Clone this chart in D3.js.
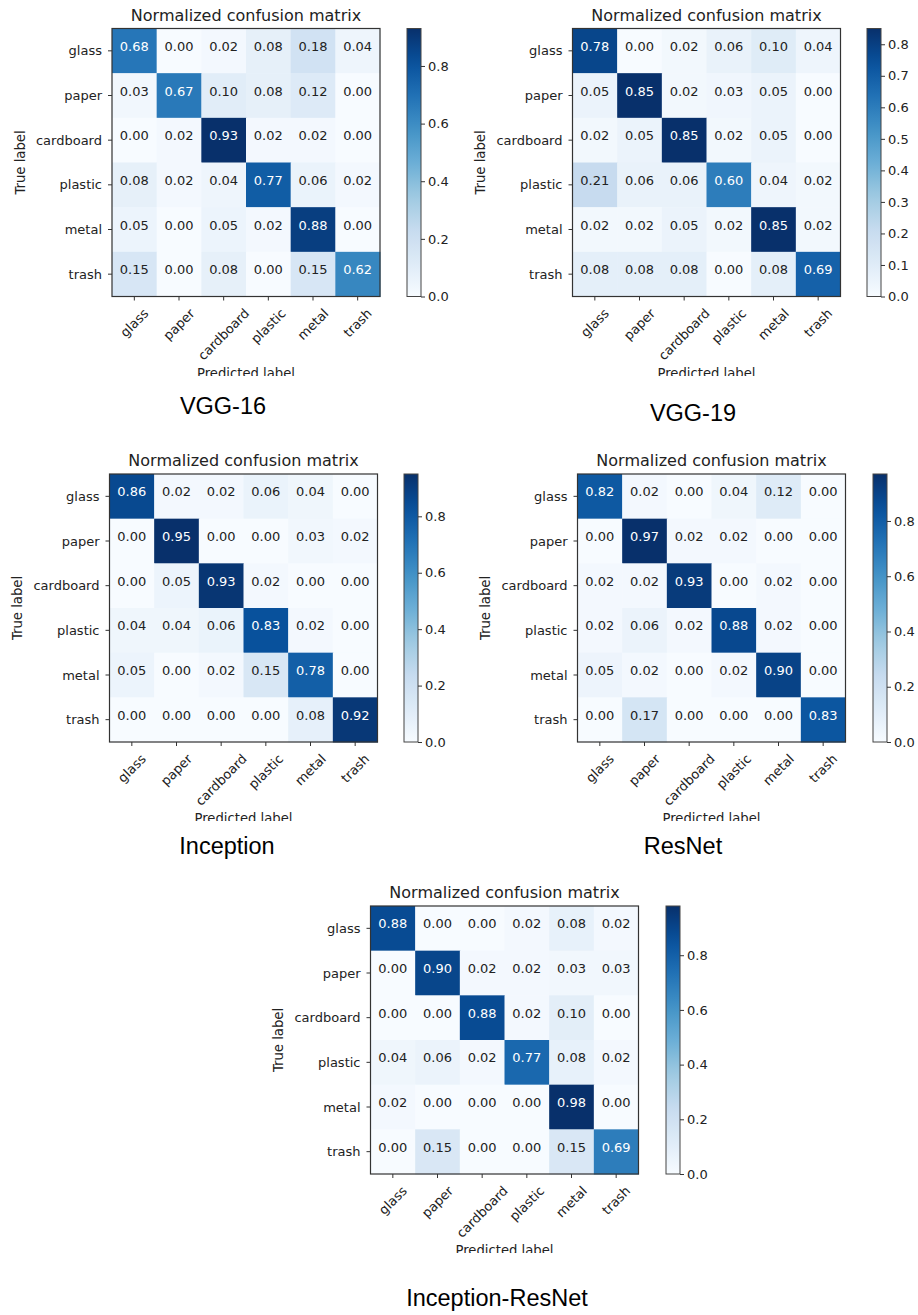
<!DOCTYPE html>
<html lang="en">
<head>
<meta charset="UTF-8">
<title>Normalized confusion matrices</title>
<script src="https://d3js.org/d3.v7.min.js"></script>
<style>
  body { margin: 0; background: #fff; }
  svg text { fill: #222; }
  .tick-label, .cell-text, .cb-label { font-family: "DejaVu Sans", sans-serif; font-size: 13px; }
  .title { font-family: "DejaVu Sans", sans-serif; font-size: 16px; }
  .axis-title { font-family: "DejaVu Sans", sans-serif; font-size: 13.2px; }
  .caption { font-family: "Liberation Sans", Arial, sans-serif; font-size: 23.5px; fill: #000; }
</style>
</head>
<body>
<div id="chart"></div>
<script>
// categories (same order on both axes)
const classes = ["glass", "paper", "cardboard", "plastic", "metal", "trash"];

const modelNames = ["VGG-16", "VGG-19", "Inception", "ResNet", "Inception-ResNet"];

const vgg16 = [
  [0.68, 0.00, 0.02, 0.08, 0.18, 0.04],
  [0.03, 0.67, 0.10, 0.08, 0.12, 0.00],
  [0.00, 0.02, 0.93, 0.02, 0.02, 0.00],
  [0.08, 0.02, 0.04, 0.77, 0.06, 0.02],
  [0.05, 0.00, 0.05, 0.02, 0.88, 0.00],
  [0.15, 0.00, 0.08, 0.00, 0.15, 0.62]
];
const vgg19 = [
  [0.78, 0.00, 0.02, 0.06, 0.10, 0.04],
  [0.05, 0.85, 0.02, 0.03, 0.05, 0.00],
  [0.02, 0.05, 0.85, 0.02, 0.05, 0.00],
  [0.21, 0.06, 0.06, 0.60, 0.04, 0.02],
  [0.02, 0.02, 0.05, 0.02, 0.85, 0.02],
  [0.08, 0.08, 0.08, 0.00, 0.08, 0.69]
];
const inception = [
  [0.86, 0.02, 0.02, 0.06, 0.04, 0.00],
  [0.00, 0.95, 0.00, 0.00, 0.03, 0.02],
  [0.00, 0.05, 0.93, 0.02, 0.00, 0.00],
  [0.04, 0.04, 0.06, 0.83, 0.02, 0.00],
  [0.05, 0.00, 0.02, 0.15, 0.78, 0.00],
  [0.00, 0.00, 0.00, 0.00, 0.08, 0.92]
];
const resnet = [
  [0.82, 0.02, 0.00, 0.04, 0.12, 0.00],
  [0.00, 0.97, 0.02, 0.02, 0.00, 0.00],
  [0.02, 0.02, 0.93, 0.00, 0.02, 0.00],
  [0.02, 0.06, 0.02, 0.88, 0.02, 0.00],
  [0.05, 0.02, 0.00, 0.02, 0.90, 0.00],
  [0.00, 0.17, 0.00, 0.00, 0.00, 0.83]
];
const inceptionResnet = [
  [0.88, 0.00, 0.00, 0.02, 0.08, 0.02],
  [0.00, 0.90, 0.02, 0.02, 0.03, 0.03],
  [0.00, 0.00, 0.88, 0.02, 0.10, 0.00],
  [0.04, 0.06, 0.02, 0.77, 0.08, 0.02],
  [0.02, 0.00, 0.00, 0.00, 0.98, 0.00],
  [0.00, 0.15, 0.00, 0.00, 0.15, 0.69]
];
const matrices = [vgg16, vgg19, inception, resnet, inceptionResnet];

// colorbar tick values per panel
const cbTicks = [
  [0.0, 0.2, 0.4, 0.6, 0.8],
  [0.0, 0.1, 0.2, 0.3, 0.4, 0.5, 0.6, 0.7, 0.8],
  [0.0, 0.2, 0.4, 0.6, 0.8],
  [0.0, 0.2, 0.4, 0.6, 0.8],
  [0.0, 0.2, 0.4, 0.6, 0.8]
];

// matplotlib "Blues"
const bluesStops = ["#f7fbff", "#deebf7", "#c6dbef", "#9ecae1", "#6baed6", "#4292c6", "#2171b5", "#08519c", "#08306b"];

// panel placement: matrix left/top, size, colorbar x, caption, clip bottom
const layout = [
  { mx: 112,   my: 28.5, size: 268, cbx: 407, capx: 223, capy: 414, clip: 376 },
  { mx: 572.5, my: 28.5, size: 268, cbx: 867, capx: 693, capy: 421, clip: 376 },
  { mx: 109.5, my: 474,  size: 268, cbx: 404, capx: 227, capy: 854, clip: 821 },
  { mx: 577.5, my: 474,  size: 268, cbx: 873, capx: 683, capy: 854, clip: 821 },
  { mx: 370.5, my: 906,  size: 268, cbx: 666, capx: 497, capy: 1306, clip: 1253 }
];

const svg = d3.select("#chart").append("svg")
  .attr("width", 918).attr("height", 1315);

const defs = svg.append("defs");

matrices.forEach((m, k) => drawPanel(m, k));

function drawPanel(m, k) {
  const L = layout[k];
  const vmax = d3.max(m.flat());
  const color = d3.scaleLinear()
    .domain(bluesStops.map((_, i) => vmax * i / (bluesStops.length - 1)))
    .range(bluesStops)
    .interpolate(d3.interpolateRgb)
    .clamp(true);

  defs.append("clipPath").attr("id", "clip" + k)
    .append("rect").attr("x", 0).attr("y", 0).attr("width", 918).attr("height", L.clip);

  const g = svg.append("g").attr("clip-path", `url(#clip${k})`);

  const x = d3.scaleBand().domain(classes).range([L.mx, L.mx + L.size]);
  const y = d3.scaleBand().domain(classes).range([L.my, L.my + L.size]);

  // cells
  const cells = [];
  m.forEach((row, i) => row.forEach((v, j) => cells.push({ r: classes[i], c: classes[j], v })));

  g.selectAll(null).data(cells).join("rect")
    .attr("x", d => x(d.c)).attr("y", d => y(d.r))
    .attr("width", x.bandwidth() + 0.5).attr("height", y.bandwidth() + 0.5)
    .attr("fill", d => color(d.v));

  g.selectAll(null).data(cells).join("text")
    .attr("class", "cell-text")
    .attr("x", d => x(d.c) + x.bandwidth() / 2)
    .attr("y", d => y(d.r) + y.bandwidth() / 2)
    .attr("text-anchor", "middle")
    .style("fill", d => d.v > vmax / 2 ? "#fff" : "#222")
    .text(d => d.v.toFixed(2));

  g.append("rect")
    .attr("x", L.mx).attr("y", L.my).attr("width", L.size).attr("height", L.size)
    .attr("fill", "none").attr("stroke", "#333").attr("stroke-width", 1.2);

  // y axis
  const yTicks = g.append("g");
  classes.forEach(c => {
    const cy = y(c) + y.bandwidth() / 2;
    yTicks.append("line").attr("x1", L.mx - 4).attr("x2", L.mx).attr("y1", cy).attr("y2", cy)
      .attr("stroke", "#333");
    yTicks.append("text").attr("class", "tick-label")
      .attr("x", L.mx - 10).attr("y", cy).attr("dy", "0.35em")
      .attr("text-anchor", "end").text(c);
  });

  // x axis, labels rotated 45 and centred on tick
  const bottom = L.my + L.size;
  classes.forEach(c => {
    const cx = x(c) + x.bandwidth() / 2;
    g.append("line").attr("x1", cx).attr("x2", cx).attr("y1", bottom).attr("y2", bottom + 4)
      .attr("stroke", "#333");
    const t = g.append("text").attr("class", "tick-label")
      .attr("text-anchor", "middle").attr("dominant-baseline", "central").text(c);
    const w = t.node().getComputedTextLength();
    const h = 13;
    const cy = bottom + 10 + (w + h) / (2 * Math.SQRT2);
    t.attr("transform", `translate(${cx},${cy}) rotate(-45)`);
  });

  // titles
  g.append("text").attr("class", "title")
    .attr("x", L.mx + L.size / 2).attr("y", L.my - 8)
    .attr("text-anchor", "middle").text("Normalized confusion matrix");

  g.append("text").attr("class", "axis-title")
    .attr("transform", `translate(${L.mx - 92},${L.my + L.size / 2}) rotate(-90)`)
    .attr("text-anchor", "middle").attr("dy", "0.35em").text("True label");

  g.append("text").attr("class", "axis-title")
    .attr("x", L.mx + L.size / 2).attr("y", L.clip + 1.5)
    .attr("text-anchor", "middle").text("Predicted label");

  // colorbar
  const cbw = 14;
  const gradId = "grad" + k;
  const grad = defs.append("linearGradient").attr("id", gradId)
    .attr("x1", 0).attr("y1", 1).attr("x2", 0).attr("y2", 0);
  d3.range(0, 1.0001, 0.05).forEach(t => {
    grad.append("stop").attr("offset", t).attr("stop-color", color(t * vmax));
  });
  const cbScale = d3.scaleLinear().domain([0, vmax]).range([bottom, L.my]);
  svg.append("rect").attr("x", L.cbx).attr("y", L.my).attr("width", cbw).attr("height", L.size)
    .attr("fill", `url(#${gradId})`).attr("stroke", "#444").attr("stroke-width", 1);
  const cbAxis = svg.append("g").attr("transform", `translate(${L.cbx + cbw},0)`)
    .call(d3.axisRight(cbScale).tickValues(cbTicks[k]).tickFormat(d3.format(".1f")).tickSize(4).tickPadding(3));
  cbAxis.select(".domain").remove();
  cbAxis.selectAll("line").attr("stroke", "#333");
  cbAxis.selectAll("text").attr("class", "cb-label").attr("font-family", null).attr("font-size", null);

  // caption under each panel
  svg.append("text").attr("class", "caption")
    .attr("x", L.capx).attr("y", L.capy)
    .attr("text-anchor", "middle").text(modelNames[k]);
}
</script>
</body>
</html>
